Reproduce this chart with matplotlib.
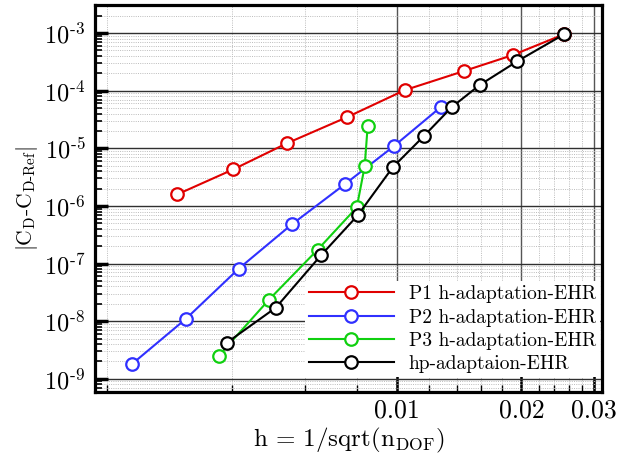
import matplotlib
matplotlib.use("Agg")
import matplotlib.pyplot as plt
from matplotlib.ticker import FixedLocator, FixedFormatter, LogLocator, NullFormatter, FuncFormatter
import numpy as np

plt.rcParams['font.family'] = 'serif'
plt.rcParams['font.serif'] = ['cmr10', 'DejaVu Serif']
plt.rcParams['mathtext.fontset'] = 'cm'
plt.rcParams['axes.formatter.use_mathtext'] = True

# error vs mesh size h for each refinement strategy
h_p1 = [0.00295, 0.00403, 0.00543, 0.00758, 0.01045, 0.0145, 0.01904, 0.0254]
err_p1 = [1.58e-6, 4.3e-6, 1.22e-5, 3.46e-5, 1.02e-4, 2.18e-4, 4.14e-4, 9.6e-4]

h_p2 = [0.0023, 0.0031, 0.00416, 0.00558, 0.00749, 0.00983, 0.01276]
err_p2 = [1.82e-9, 1.10e-8, 8.19e-8, 4.77e-7, 2.37e-6, 1.08e-5, 5.16e-5]

h_p3 = [0.00372, 0.00492, 0.00645, 0.00801, 0.00837, 0.00851]
err_p3 = [2.51e-9, 2.37e-8, 1.75e-7, 9.42e-7, 4.86e-6, 2.41e-5]

h_hp = [0.00389, 0.00511, 0.00656, 0.00805, 0.00978, 0.01162, 0.01357, 0.01585, 0.01957, 0.0254]
err_hp = [4.23e-9, 1.72e-8, 1.38e-7, 6.84e-7, 4.67e-6, 1.62e-5, 5.16e-5, 1.25e-4, 3.26e-4, 9.6e-4]

labels = ['P1 h-adaptation-EHR', 'P2 h-adaptation-EHR',
          'P3 h-adaptation-EHR', 'hp-adaptaion-EHR']

x_major = [0.01, 0.02, 0.03]
x_major_labels = ['0.01', '0.02', '0.03']
x_minor = [0.002, 0.004, 0.006, 0.008, 0.012, 0.014, 0.016, 0.018,
           0.022, 0.024, 0.026, 0.028]
y_major = [1e-9, 1e-8, 1e-7, 1e-6, 1e-5, 1e-4, 1e-3]


def decade_label(v, pos):
    # short hyphen in the exponent instead of a math minus
    e = int(round(np.log10(v)))
    sign = r'\text{-}' if e < 0 else ''
    return r'$\mathrm{10^{%s%d}}$' % (sign, abs(e))


fig = plt.figure(figsize=(6.31, 4.58), dpi=100)
ax = fig.add_axes([95/631, 1-392/458, 507/631, 387/458])

series = [(h_p1, err_p1, '#e00000'), (h_p2, err_p2, '#3030ff'),
          (h_p3, err_p3, '#10d010'), (h_hp, err_hp, 'black')]
for (x, y, c), lab in zip(series, labels):
    ax.plot(x, y, '-o', color=c, lw=1.5, ms=9, mew=1.6,
            mfc='white', mec=c, label=lab, zorder=3)

ax.set_xscale('log')
ax.set_yscale('log')
ax.set_xlim(0.00187, 0.0313)
ax.set_ylim(5.9e-10, 3.07e-3)

ax.xaxis.set_major_locator(FixedLocator(x_major))
ax.xaxis.set_major_formatter(FixedFormatter(x_major_labels))
ax.xaxis.set_minor_locator(FixedLocator(x_minor))
ax.xaxis.set_minor_formatter(NullFormatter())
ax.yaxis.set_major_locator(FixedLocator(y_major))
ax.yaxis.set_major_formatter(FuncFormatter(decade_label))
ax.yaxis.set_minor_locator(LogLocator(base=10, subs=range(2, 10), numticks=20))
ax.yaxis.set_minor_formatter(NullFormatter())

ax.grid(which='major', axis='y', color='#303030', lw=1.0, ls='-', zorder=1)
ax.grid(which='major', axis='x', color='#555555', lw=1.0, ls='-', zorder=1)
ax.grid(which='minor', color='#bcbcbc', lw=0.7, ls=(0, (1, 1.3)), zorder=1)
ax.set_axisbelow(True)

ax.tick_params(axis='y', which='major', direction='in', length=9, width=2.5,
               labelsize=17.5, pad=7)
ax.tick_params(axis='y', which='minor', direction='in', length=5, width=1.2)
ax.tick_params(axis='x', which='major', direction='in', length=13, width=1.8,
               labelsize=18.5, pad=5)
ax.tick_params(axis='x', which='minor', direction='in', length=5, width=1.0)

for s in ax.spines.values():
    s.set_linewidth(2.3)

ax.set_xlabel(r'h = 1/sqrt(n$_\mathrm{DOF}$)', fontsize=18, labelpad=2)
ax.set_ylabel(r'$|\mathrm{C}_\mathrm{D}$-$\mathrm{C}_{\mathrm{D}\text{-}\mathrm{Ref}}|$',
              fontsize=15.5, labelpad=3)

leg = ax.legend(loc='lower right', bbox_to_anchor=(0.996, 0.039),
                borderaxespad=0, fontsize=14, handlelength=4.4,
                handletextpad=0.75, labelspacing=0.27, borderpad=0.2,
                frameon=True, fancybox=False, edgecolor='none',
                facecolor='white', framealpha=1)

fig.savefig('out.png', dpi=100)
